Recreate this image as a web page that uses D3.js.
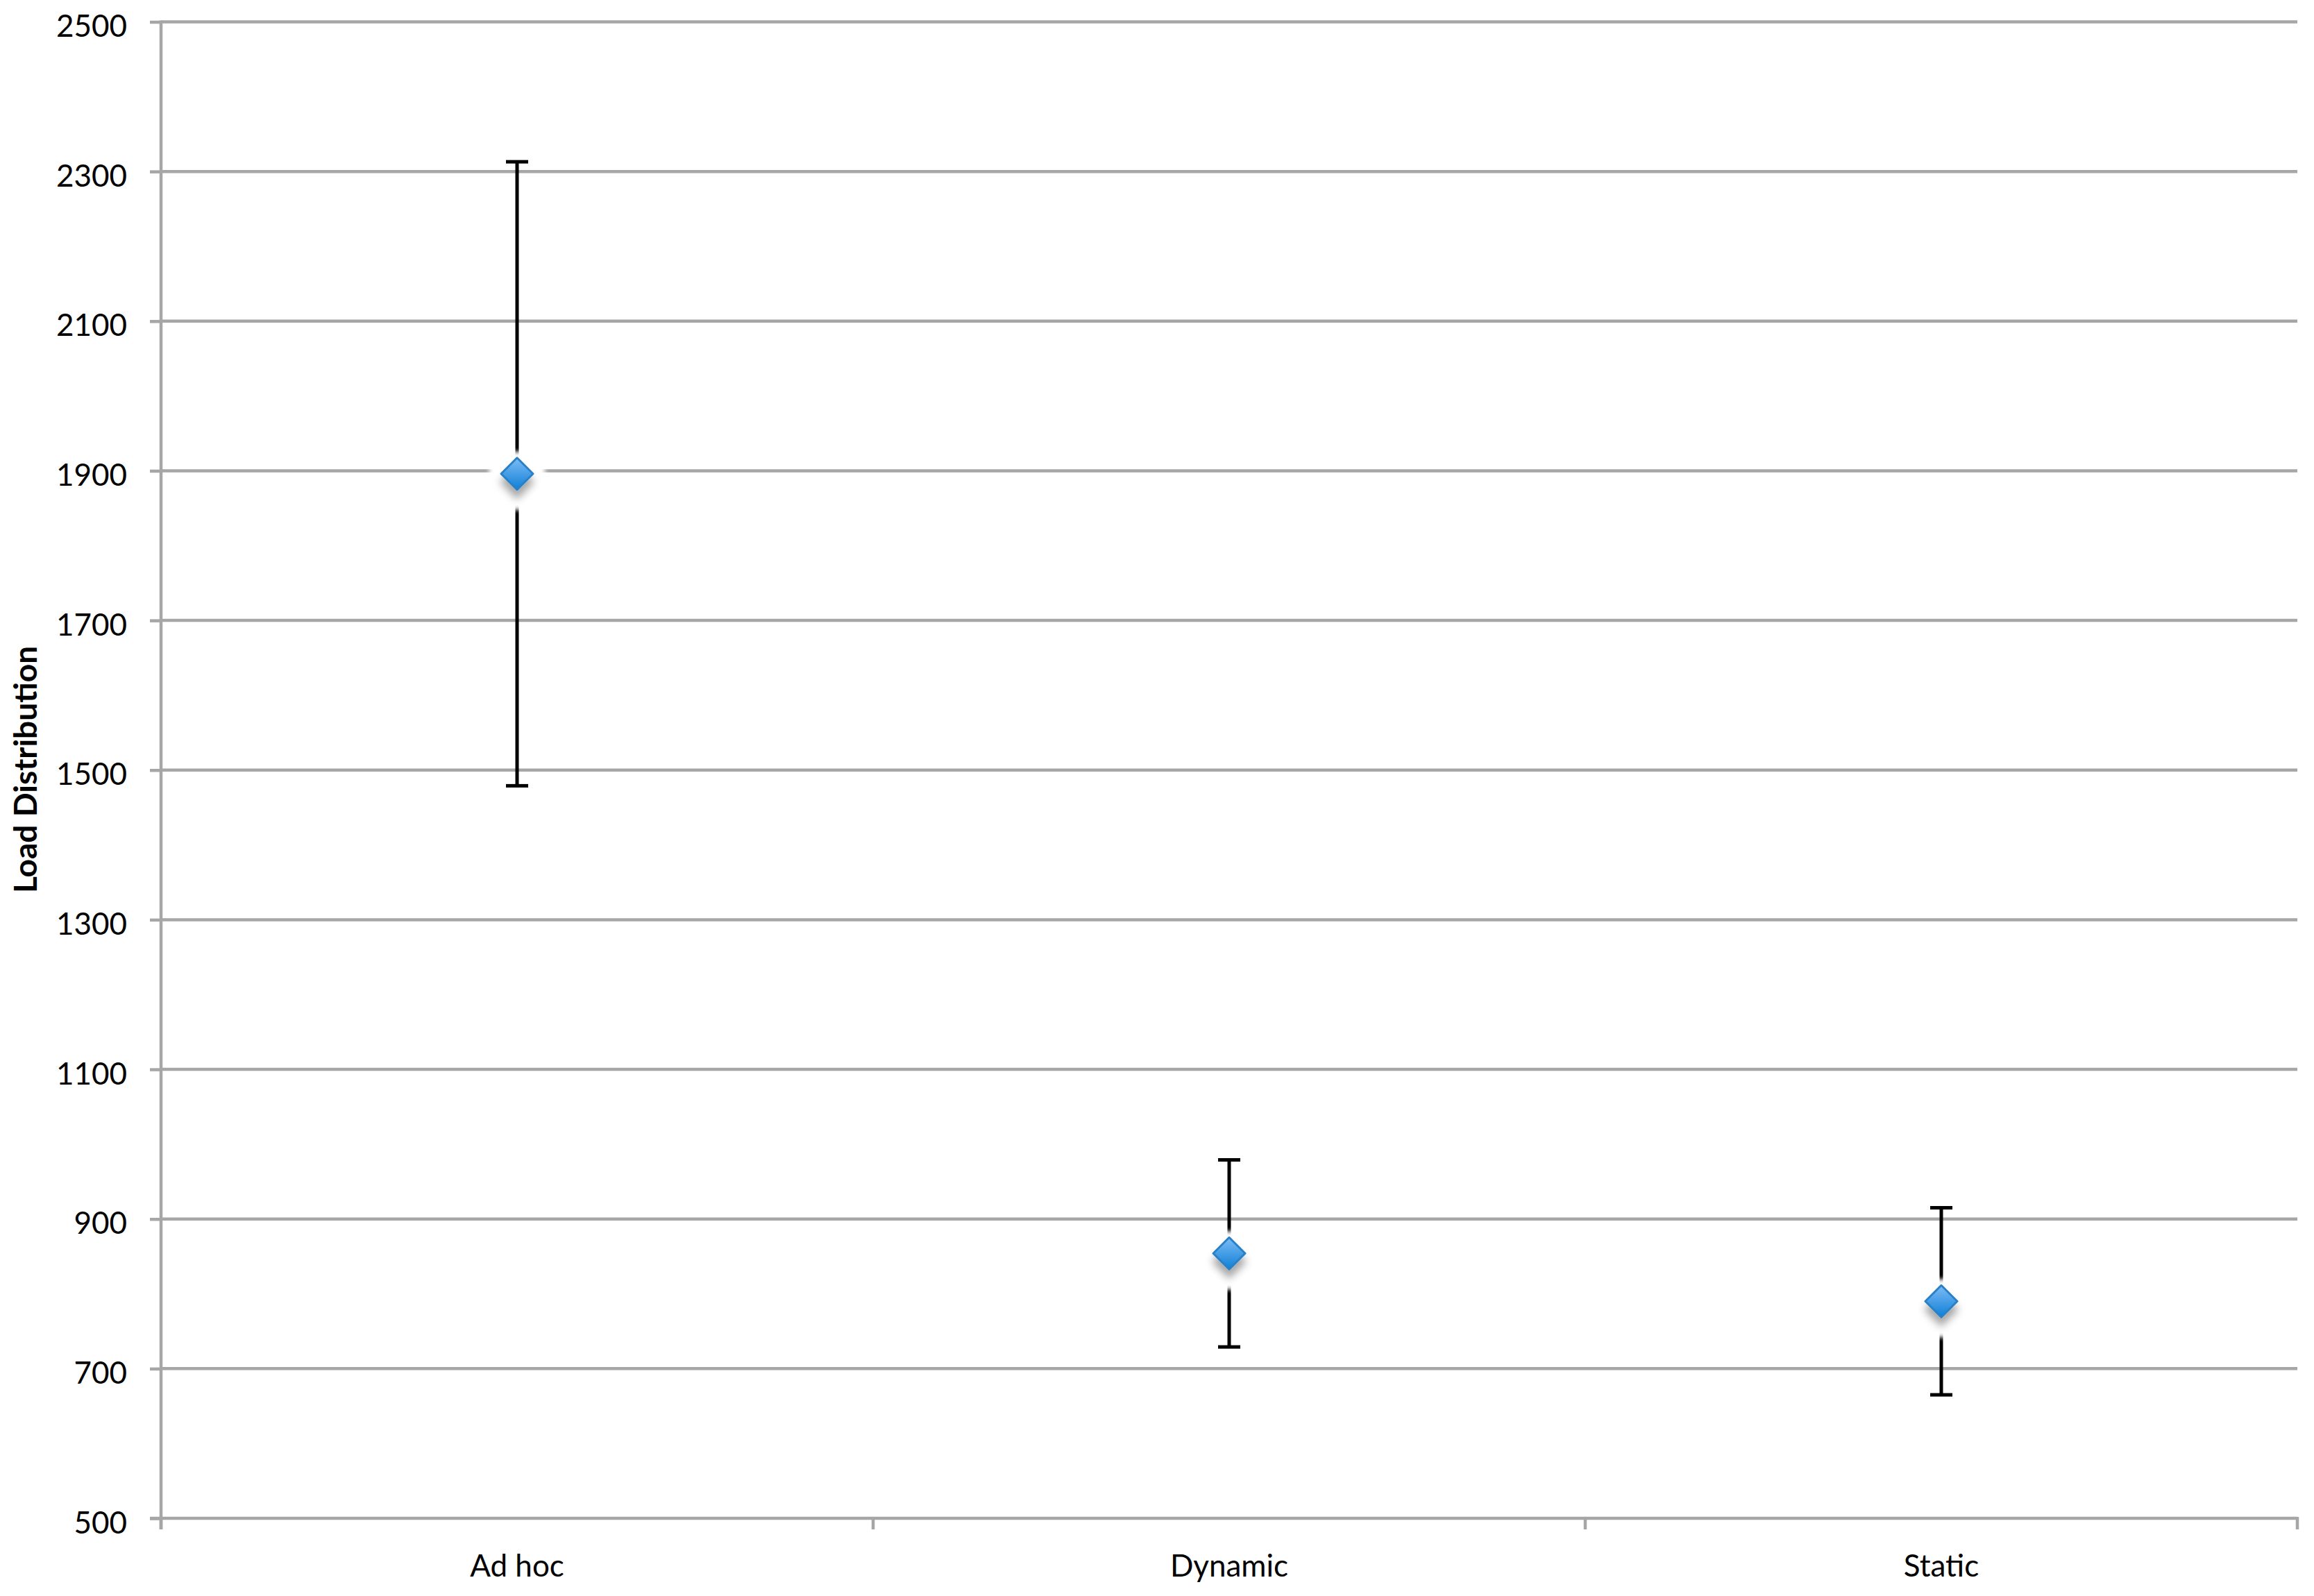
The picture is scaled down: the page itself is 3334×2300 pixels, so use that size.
<!DOCTYPE html>
<html>
<head>
<meta charset="utf-8">
<script src="https://cdn.jsdelivr.net/npm/d3@7"></script>
<style>
  html, body { margin: 0; padding: 0; background: #fff; }
  svg { display: block; }
  text { font-family: Lato, "Open Sans", sans-serif; fill: #000; }
</style>
</head>
<body>
<script>
// ---- data ----
const categories = ["Ad hoc", "Dynamic", "Static"];
const means = [1896, 854, 790];
const errors = [417, 125, 125];
const yTicks = [500, 700, 900, 1100, 1300, 1500, 1700, 1900, 2100, 2300, 2500];
const yTitle = "Load Distribution";

// ---- layout ----
const W = 3334, H = 2300;
const pLeft = 232, pRight = 3310, pTop = 31.5, pBottom = 2188;
const gridColor = "#a6a6a6";

const svg = d3.select("body").append("svg").attr("width", W).attr("height", H);

const defs = svg.append("defs");
const grad = defs.append("linearGradient").attr("id", "dg")
  .attr("x1", 0).attr("y1", 0).attr("x2", 0).attr("y2", 1);
grad.append("stop").attr("offset", "0%").attr("stop-color", "#7dbcf5");
grad.append("stop").attr("offset", "100%").attr("stop-color", "#0f7fd6");
const flt = defs.append("filter").attr("id", "sh").attr("x", "-100%").attr("y", "-100%")
  .attr("width", "300%").attr("height", "300%");
flt.append("feDropShadow").attr("dx", 0).attr("dy", 12).attr("stdDeviation", 6)
  .attr("flood-color", "#000").attr("flood-opacity", 0.35);
const halo = defs.append("filter").attr("id", "halo").attr("x", "-50%").attr("y", "-50%")
  .attr("width", "200%").attr("height", "200%");
halo.append("feGaussianBlur").attr("stdDeviation", 3);

const y = d3.scaleLinear().domain([500, 2500]).range([pBottom, pTop]);
const x = d3.scaleBand().domain(categories).range([pLeft, pRight]).padding(0);

// gridlines
svg.append("g").selectAll("line").data(yTicks.filter(d => d !== 500)).join("line")
  .attr("x1", pLeft).attr("x2", pRight)
  .attr("y1", d => y(d)).attr("y2", d => y(d))
  .attr("stroke", gridColor).attr("stroke-width", 4.5);

// y axis
const yAxis = d3.axisLeft(y).tickValues(yTicks).tickSize(16).tickPadding(33)
  .tickFormat(d3.format("d"));
const gy = svg.append("g").attr("transform", `translate(${pLeft},0)`).call(yAxis);
gy.select(".domain").attr("stroke", gridColor).attr("stroke-width", 4.5)
  .attr("d", `M0,${pTop - 2}V${pBottom + 16}`);
gy.selectAll(".tick line").attr("stroke", gridColor).attr("stroke-width", 4.5);
gy.selectAll(".tick text").attr("font-size", 44).attr("dy", "21px")
  .attr("font-family", "Lato, 'Open Sans', sans-serif").attr("fill", "#000");

// x axis
const xAxis = d3.axisBottom(x).tickSize(0).tickPadding(84);
const gx = svg.append("g").attr("transform", `translate(0,${pBottom})`).call(xAxis);
gx.select(".domain").attr("stroke", gridColor).attr("stroke-width", 4.5)
  .attr("d", `M${pLeft - 16},0H${pRight}`);
gx.selectAll(".tick line").remove();
gx.selectAll(".tick text").attr("font-size", 44).attr("dy", null)
  .attr("font-family", "Lato, 'Open Sans', sans-serif").attr("fill", "#000");
// boundary ticks
const bounds = categories.map(c => x(c)).concat([x(categories[categories.length - 1]) + x.bandwidth()]);
gx.append("g").selectAll("line").data(bounds).join("line")
  .attr("x1", d => d).attr("x2", d => d).attr("y1", -2).attr("y2", 16)
  .attr("stroke", gridColor).attr("stroke-width", 4.5);

// y title
svg.append("text")
  .attr("transform", `translate(53,1109) rotate(-90)`)
  .attr("text-anchor", "middle").attr("font-size", 46).attr("font-weight", "bold")
  .text(yTitle);

// error bars
const cx = c => x(c) + x.bandwidth() / 2;
const eb = svg.append("g").selectAll("g").data(categories).join("g");
eb.append("line")
  .attr("x1", c => cx(c)).attr("x2", c => cx(c))
  .attr("y1", (c, i) => y(means[i] + errors[i])).attr("y2", (c, i) => y(means[i] - errors[i]))
  .attr("stroke", "#000").attr("stroke-width", 5);
eb.append("line")
  .attr("x1", c => cx(c) - 16).attr("x2", c => cx(c) + 16)
  .attr("y1", (c, i) => y(means[i] + errors[i])).attr("y2", (c, i) => y(means[i] + errors[i]))
  .attr("stroke", "#000").attr("stroke-width", 5);
eb.append("line")
  .attr("x1", c => cx(c) - 16).attr("x2", c => cx(c) + 16)
  .attr("y1", (c, i) => y(means[i] - errors[i])).attr("y2", (c, i) => y(means[i] - errors[i]))
  .attr("stroke", "#000").attr("stroke-width", 5);

// marker halos (white) and diamonds
const mk = svg.append("g").selectAll("g").data(categories).join("g")
  .attr("transform", (c, i) => `translate(${cx(c)},${y(means[i])})`);
mk.append("rect").attr("x", -40).attr("y", -32).attr("width", 80).attr("height", 84)
  .attr("rx", 14).attr("fill", "#fff").attr("filter", "url(#halo)");
mk.append("path").attr("d", "M0,-23L23,0L0,23L-23,0Z")
  .attr("fill", "url(#dg)").attr("stroke", "#2a80c6").attr("stroke-width", 3)
  .attr("stroke-linejoin", "round").attr("filter", "url(#sh)");
</script>
</body>
</html>
